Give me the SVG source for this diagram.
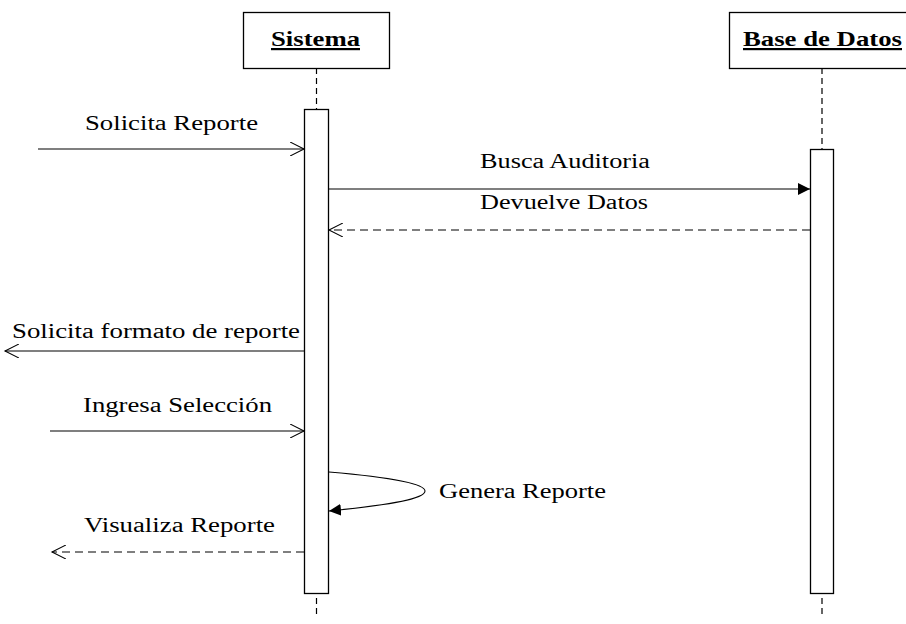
<svg xmlns="http://www.w3.org/2000/svg" width="906" height="624" viewBox="0 0 906 624">
  <style>
    .box{fill:#fff;stroke:#000;stroke-width:1.3}
    .life{stroke:#000;stroke-width:1.2;stroke-dasharray:6 4;fill:none}
    .msg{stroke:#000;stroke-width:1.1;fill:none}
    .ret{stroke:#000;stroke-width:1.1;fill:none;stroke-dasharray:8 5}
    .title{font-family:"Liberation Serif","Times New Roman",serif;font-size:22px;font-weight:bold;text-decoration:underline}
    .lbl{font-family:"Liberation Serif","Times New Roman",serif;font-size:20.5px}
  </style>
  <defs>
    <marker id="open" markerWidth="16" markerHeight="14" refX="14" refY="7" orient="auto" markerUnits="userSpaceOnUse">
      <path d="M0,0 L14,7 L0,14" fill="none" stroke="#000" stroke-width="1.1"/>
    </marker>
    <marker id="filled" markerWidth="14" markerHeight="12" refX="12" refY="6" orient="auto" markerUnits="userSpaceOnUse">
      <path d="M0,0 L12,6 L0,12 Z" fill="#000"/>
    </marker>
  </defs>

  <g id="sistema">
    <line class="life" x1="316.5" y1="68" x2="316.5" y2="614"/>
    <rect class="box" x="243.5" y="12.5" width="146" height="56"/>
    <text class="title" x="271" y="46" textLength="89" lengthAdjust="spacingAndGlyphs">Sistema</text>
    <rect class="box" x="304.5" y="109.5" width="24" height="484"/>
  </g>

  <g id="base-de-datos">
    <line class="life" x1="822" y1="68" x2="822" y2="614"/>
    <rect class="box" x="729.5" y="12.5" width="190" height="56"/>
    <text class="title" x="743" y="46" textLength="159" lengthAdjust="spacingAndGlyphs">Base de Datos</text>
    <rect class="box" x="810.5" y="149.5" width="23" height="444"/>
  </g>

  <g id="connectors">
    <line class="msg" x1="38" y1="149" x2="304" y2="149" marker-end="url(#open)"/>
    <text class="lbl" x="85" y="130" textLength="173" lengthAdjust="spacingAndGlyphs">Solicita Reporte</text>

    <line class="msg" x1="329" y1="189" x2="810" y2="189" marker-end="url(#filled)"/>
    <text class="lbl" x="480" y="168" textLength="170" lengthAdjust="spacingAndGlyphs">Busca Auditoria</text>

    <line class="ret" x1="810" y1="230" x2="329" y2="230" marker-end="url(#open)"/>
    <text class="lbl" x="480" y="209" textLength="168" lengthAdjust="spacingAndGlyphs">Devuelve Datos</text>

    <line class="msg" x1="304" y1="351" x2="5" y2="351" marker-end="url(#open)"/>
    <text class="lbl" x="12" y="338" textLength="288" lengthAdjust="spacingAndGlyphs">Solicita formato de reporte</text>

    <line class="msg" x1="50" y1="431" x2="304" y2="431" marker-end="url(#open)"/>
    <text class="lbl" x="83" y="412" textLength="189" lengthAdjust="spacingAndGlyphs">Ingresa Selección</text>

    <path class="msg" d="M329,472 C400,478 425,485 425,491 C425,499 390,505 329,511" marker-end="url(#filled)"/>
    <text class="lbl" x="439" y="498" textLength="167" lengthAdjust="spacingAndGlyphs">Genera Reporte</text>

    <line class="ret" x1="304" y1="552" x2="52" y2="552" marker-end="url(#open)"/>
    <text class="lbl" x="84" y="532" textLength="191" lengthAdjust="spacingAndGlyphs">Visualiza Reporte</text>
  </g>
</svg>
